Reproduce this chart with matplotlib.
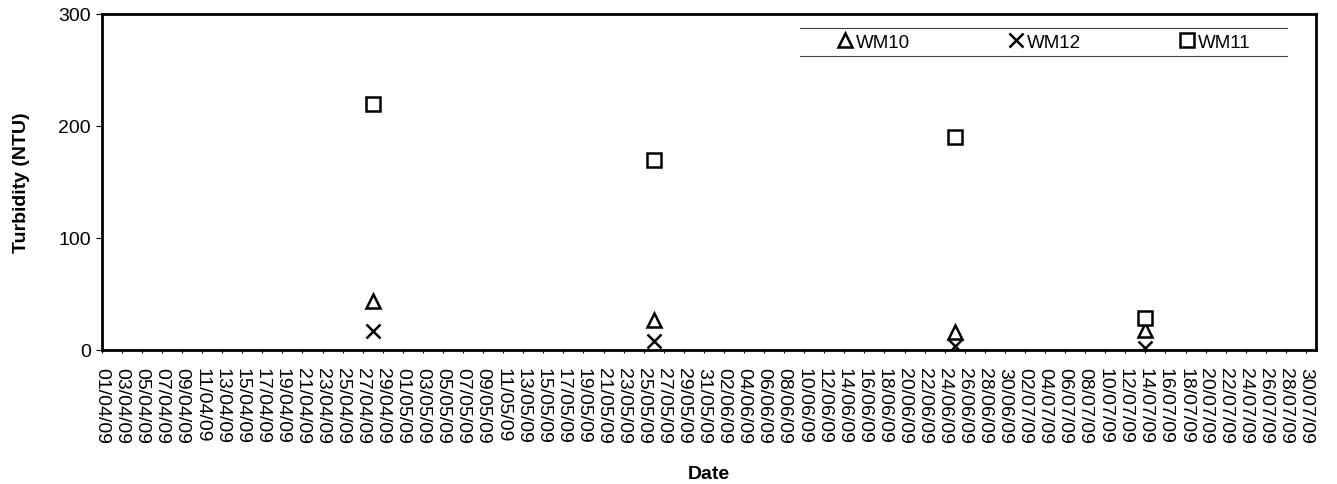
import pandas as pd
import matplotlib
matplotlib.use("Agg")
import matplotlib.pyplot as plt
import matplotlib.dates as mdates
from matplotlib.lines import Line2D

plt.rcParams["font.family"] = ["Liberation Sans", "DejaVu Sans"]

# sampling dates and turbidity readings (NTU)
sample_dates = pd.to_datetime(["2009-04-28", "2009-05-26", "2009-06-25", "2009-07-14"])
wm10 = [44, 27, 16, 18]
wm12 = [17, 8, 4, 2]
wm11 = [220, 170, 190, 29]

# axis settings
tick_dates = pd.date_range("2009-04-01", "2009-07-30", freq="2D")
x_start = pd.Timestamp("2009-04-01")
x_end = pd.Timestamp("2009-07-31")
y_ticks = [0, 100, 200, 300]

fig = plt.figure(figsize=(13.37, 4.85), dpi=100)
ax = fig.add_axes([0.0761, 0.2763, 0.9082, 0.6928])

# Plot the three monitoring sites
ax.plot(sample_dates, wm10, linestyle="none", marker="^", ms=10, mfc="white",
        mec="black", mew=1.8, label="WM10")
ax.plot(sample_dates, wm12, linestyle="none", marker="x", ms=10, mec="black",
        mew=1.8, label="WM12")
ax.plot(sample_dates, wm11, linestyle="none", marker="s", ms=10, mfc="white",
        mec="black", mew=1.8, label="WM11")

# Axes limits and ticks
ax.set_xlim(x_start, x_end)
ax.set_ylim(0, 300)
ax.set_yticks(y_ticks)
ax.set_xticks(tick_dates)
ax.xaxis.set_major_formatter(mdates.DateFormatter("%d/%m/%y"))
plt.setp(ax.get_xticklabels(), rotation=270, ha="center", va="top")
ax.tick_params(axis="x", labelsize=14, length=2, width=0.8, pad=10)
ax.tick_params(axis="y", labelsize=14, length=4, width=0.8, pad=4)

for side in ax.spines.values():
    side.set_linewidth(2)
    side.set_color("black")

# Labels
ax.set_xlabel("Date", fontsize=14, fontweight="bold", labelpad=16)
ax.set_ylabel("Turbidity (NTU)", fontsize=14, fontweight="bold", labelpad=20)

# Legend in one row with top and bottom rules
ax.legend(loc="center", bbox_to_anchor=(0.606, 0.9167, 0.34, 0.0), mode="expand",
          ncol=3, frameon=False, fontsize=13.5, handlelength=0.8, handletextpad=0.2,
          borderpad=0, borderaxespad=0)
ax.plot([0.575, 0.976], [0.958, 0.958], color="#444444", lw=0.8, transform=ax.transAxes)
ax.plot([0.575, 0.976], [0.875, 0.875], color="#444444", lw=0.8, transform=ax.transAxes)

# Bottom edge of the cut-off title box
fig.add_artist(Line2D([0.4757, 0.5729], [0.999, 0.999], color="#888888", lw=1.2,
                      transform=fig.transFigure))

plt.savefig("out.png", dpi=100)
